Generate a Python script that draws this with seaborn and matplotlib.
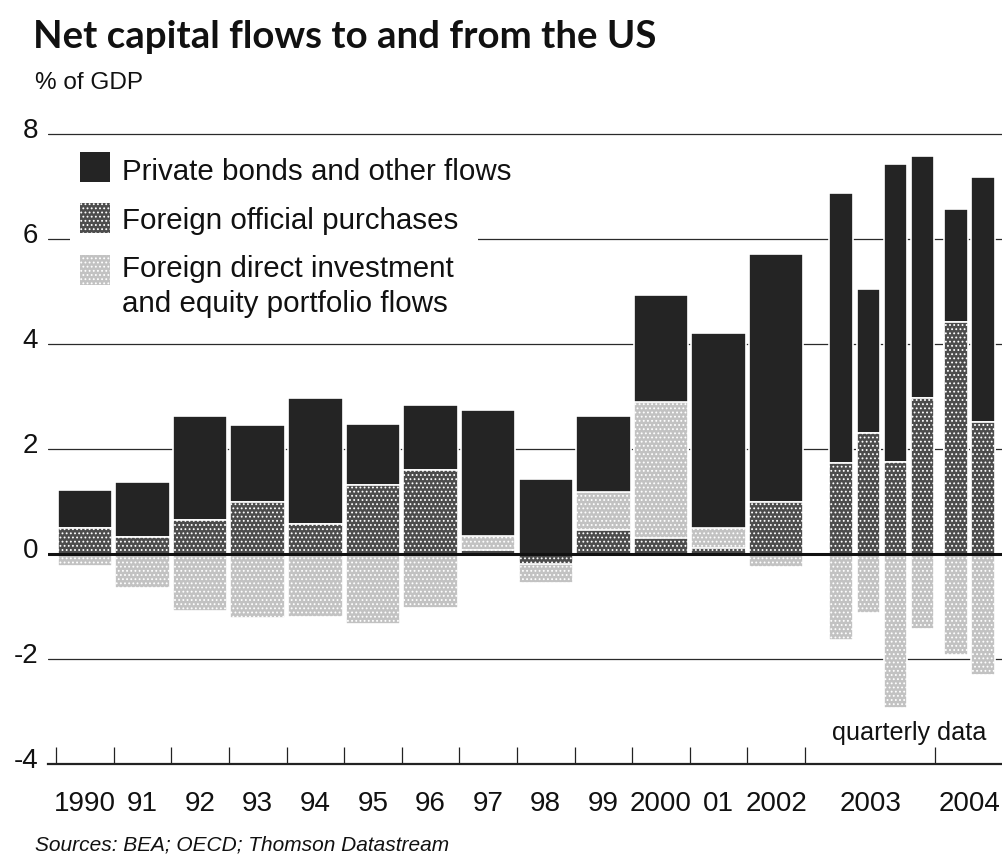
import numpy as np
import pandas as pd
import matplotlib
matplotlib.use("Agg")
import matplotlib.pyplot as plt
from matplotlib.patches import Rectangle
from matplotlib.transforms import ScaledTranslation
import seaborn as sns

# ---------------- data (% of GDP) ----------------
periods = ["1990", "1991", "1992", "1993", "1994", "1995", "1996", "1997", "1998",
           "1999", "2000", "2001", "2002",
           "2003Q1", "2003Q2", "2003Q3", "2003Q4", "2004Q1", "2004Q2"]
frequency = ["annual"] * 13 + ["quarterly"] * 6
private_bonds = [0.72, 1.05, 1.97, 1.45, 2.39, 1.16, 1.23, 2.39, 1.43,
                 1.43, 2.04, 3.71, 4.72,
                 5.14, 2.74, 5.66, 4.61, 2.16, 4.67]
official_purchases = [0.50, 0.33, 0.65, 1.00, 0.58, 1.32, 1.60, 0.07, -0.19,
                      0.45, 0.30, 0.11, 0.99,
                      1.73, 2.31, 1.76, 2.98, 4.42, 2.51]
fdi_equity = [-0.22, -0.65, -1.08, -1.22, -1.20, -1.33, -1.03, 0.28, -0.37,
              0.74, 2.60, 0.39, -0.25,
              -1.64, -1.13, -2.93, -1.42, -1.93, -2.31]

x_tick_labels = ["1990", "91", "92", "93", "94", "95", "96", "97", "98", "99",
                 "2000", "01", "2002", "2003", "2004"]
y_ticks = [-4, -2, 0, 2, 4, 6, 8]
y_tick_labels = ["-4", "-2", "0", "2", "4", "6", "8"]
legend_labels = ["Private bonds and other flows", "Foreign official purchases",
                 "Foreign direct investment", "and equity portfolio flows"]
title = "Net capital flows to and from the US"
subtitle = "% of GDP"
source = "Sources: BEA; OECD; Thomson Datastream"
note = "quarterly data"

# ---------------- layout (x in "annual slot" units) ----------------
annual_pos = np.arange(13) + 0.5
q2003_pos = 13.63 + 0.47 * np.arange(4)
q2004_pos = 15.62 + 0.47 * np.arange(2)
positions = np.concatenate([annual_pos, q2003_pos, q2004_pos])
boundary_ticks = list(np.arange(14)) + [15.26]
label_pos = list(annual_pos) + [14.13, 15.855]

W, H = 1002, 862
BLACK = "#242424"
DARK = "#4c4c4c"
LIGHT = "#c2c2c2"

sns.set_style("white")
plt.rcParams["font.family"] = ["Liberation Sans", "DejaVu Sans"]
plt.rcParams["hatch.linewidth"] = 0.8

fig = plt.figure(figsize=(W / 100, H / 100), dpi=100)
ymin, ymax = -4, 8.25
ax_bottom_px, unit_px = 765, 52.5
ax_top_px = ax_bottom_px - (ymax - ymin) * unit_px
ax = fig.add_axes([48 / W, 1 - ax_bottom_px / H, (W - 48) / W,
                   (ax_bottom_px - ax_top_px) / H])

df = pd.DataFrame({"period": periods, "freq": frequency, "x": positions,
                   "private": private_bonds, "official": official_purchases,
                   "fdi": fdi_equity})
df["pos_off"] = df["official"].clip(lower=0)
df["pos_fdi_top"] = df["pos_off"] + df["fdi"].clip(lower=0)
df["pos_total"] = df["pos_fdi_top"] + df["private"]
df["neg_off"] = df["official"].clip(upper=0)
df["neg_total"] = df["neg_off"] + df["fdi"].clip(upper=0)

layers = [("pos_total", BLACK, None), ("pos_fdi_top", LIGHT, "...."),
          ("pos_off", DARK, "...."), ("neg_total", LIGHT, "...."),
          ("neg_off", DARK, "....")]

for freq, bw in [("annual", 0.945), ("quarterly", 0.41)]:
    sub = df[df["freq"] == freq]
    native = np.min(np.diff(np.unique(sub["x"])))
    for k, (col, color, hatch) in enumerate(layers):
        sns.barplot(data=sub, x="x", y=col, native_scale=True, width=bw / native,
                    color=color, saturation=1, errorbar=None, ax=ax,
                    edgecolor="white", linewidth=1.2, hatch=hatch,
                    zorder=2 + 0.1 * k)

ax.set_xlim(-0.14, 16.42)
ax.set_ylim(ymin, ymax)
ax.set_xlabel("")
ax.set_ylabel("")

# gridlines and zero line
for yv in y_ticks:
    if yv not in (0, -4):
        ax.axhline(yv, color="#2a2a2a", lw=0.9, zorder=1)
ax.axhline(0, color="#111111", lw=2.2, zorder=6)

for s in ["top", "right", "left"]:
    ax.spines[s].set_visible(False)
ax.spines["bottom"].set_linewidth(1.6)
ax.spines["bottom"].set_color("#222222")
ax.spines["bottom"].set_zorder(7)

ax.set_yticks(y_ticks)
ax.set_yticklabels(y_tick_labels, fontsize=20, color="#111111")
ax.tick_params(axis="y", left=False, length=0, pad=7)
for lbl in ax.get_yticklabels():
    lbl.set_transform(lbl.get_transform() + ScaledTranslation(0, 0.07, fig.dpi_scale_trans))

ax.set_xticks(boundary_ticks)
ax.set_xticklabels([""] * len(boundary_ticks))
ax.tick_params(axis="x", which="major", bottom=True, direction="in", length=12.5,
               width=0.9, color="#222222")
ax.set_xticks(label_pos, minor=True)
ax.set_xticklabels(x_tick_labels, minor=True, fontsize=20, color="#111111")
ax.tick_params(axis="x", which="minor", bottom=True, length=0, pad=19)

# ---------------- text ----------------
renderer = fig.canvas.get_renderer()


def fit(t, target_w):
    w = t.get_window_extent(renderer).width
    t.set_fontsize(t.get_fontsize() * target_w / w)
    return t


def fx(px):
    return px / W


def fy(py):
    return 1 - py / H


t = fig.text(fx(33), fy(48), title, fontsize=28, fontweight="bold",
             family=["Lato", "DejaVu Sans"], color="#111111", va="baseline")
fit(t, 623)
t = fig.text(fx(35), fy(89), subtitle, fontsize=18, color="#111111", va="baseline")
fit(t, 108)
t = fig.text(fx(35), fy(851), source, fontsize=16, style="italic", color="#111111",
             va="baseline")
fit(t, 415)
t = fig.text(fx(832), fy(740), note, fontsize=18, color="#111111", va="baseline")
fit(t, 153)

# ---------------- legend ----------------
fig.add_artist(Rectangle((fx(70), fy(330)), fx(478 - 70), (330 - 140) / H,
                         transform=fig.transFigure, facecolor="white",
                         edgecolor="none", zorder=1))
sq = [(153, BLACK, None), (204, DARK, "...."), (256, LIGHT, "....")]
for top, color, hatch in sq:
    fig.add_artist(Rectangle((fx(80), fy(top + 30)), 30 / W, 30 / H,
                             transform=fig.transFigure, facecolor=color,
                             edgecolor="white", linewidth=0, hatch=hatch, zorder=2))
baselines = [180, 229, 277, 312]
lt = [fig.text(fx(122), fy(b), s, fontsize=20, color="#111111", va="baseline",
               zorder=3) for b, s in zip(baselines, legend_labels)]
fit(lt[0], 388)
for tt in lt[1:]:
    tt.set_fontsize(lt[0].get_fontsize())

fig.savefig("out.png", dpi=100)
